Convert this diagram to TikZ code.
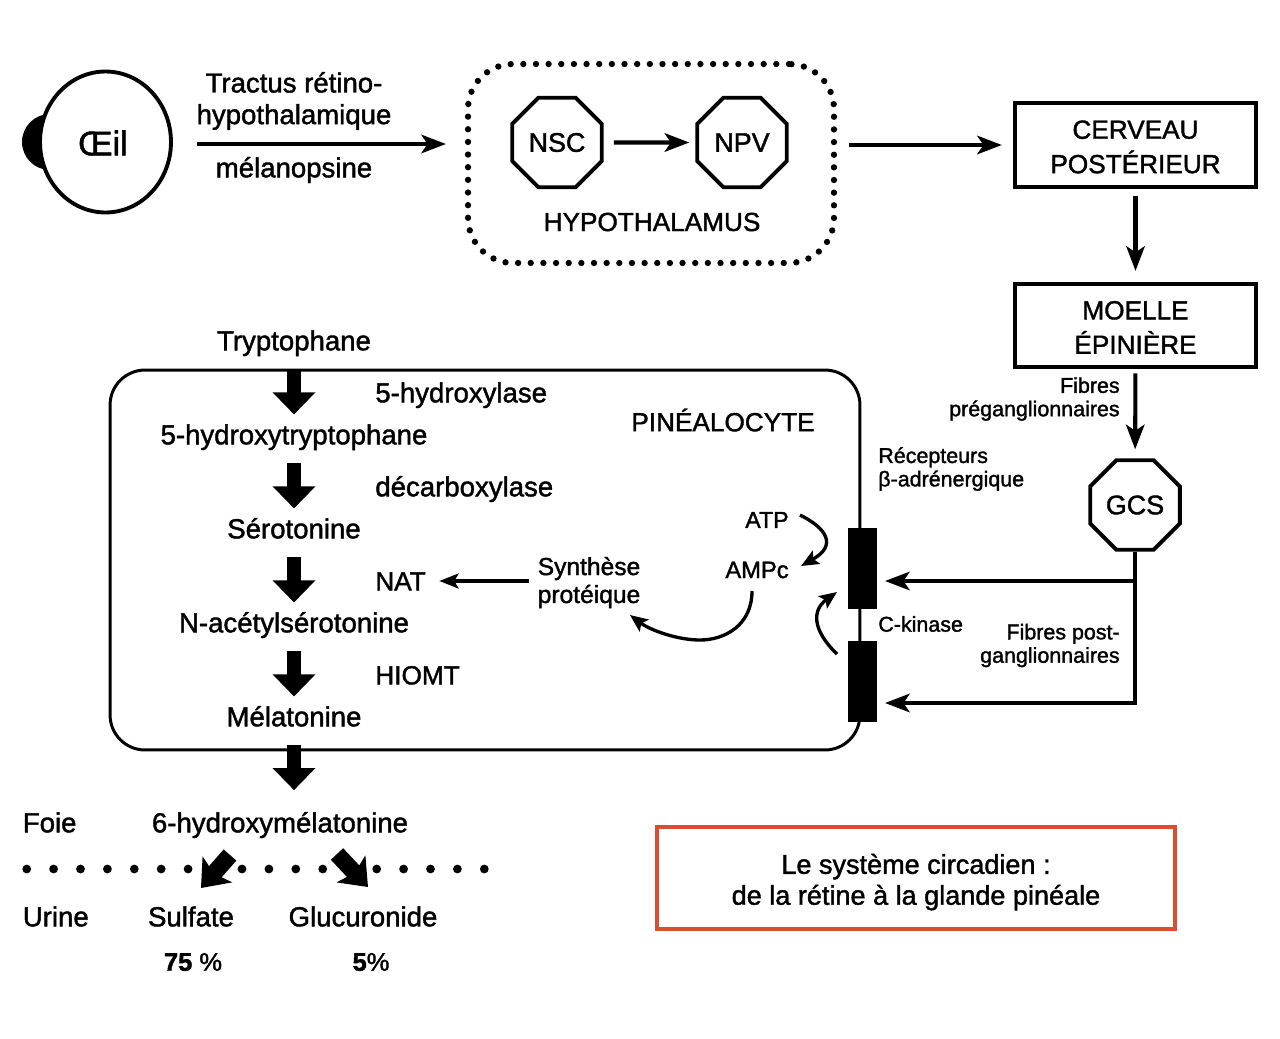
\documentclass[tikz,border=0pt]{standalone}
\usepackage{fontspec}
\setmainfont{Liberation Sans}[FakeBold=1.5]
\usetikzlibrary{shapes.geometric,arrows.meta}
\definecolor{cadrered}{RGB}{222,76,48}
\newcommand{\basse}[1]{\rule{0pt}{#1}}

\tikzset{
    lab/.style={inner sep=0pt, font=\fontsize{15.7}{18}\selectfont, align=center},
    caps/.style={lab, font=\fontsize{14.9}{18}\selectfont},
    chem/.style={lab, text height=12.3pt, text depth=1.7pt},
    small/.style={inner sep=0pt, font=\fontsize{12.2}{13.3}\selectfont},
    octo/.style={draw, regular polygon, regular polygon sides=8, minimum size=1.94cm, inner sep=0pt, line width=2.2pt, font=\fontsize{15.3}{18}\selectfont},
    bloc/.style={draw, rectangle, minimum width=4.83cm, minimum height=1.67cm, line width=2.3pt, inner sep=0pt, align=center, font=\fontsize{14.9}{19.6}\selectfont},
    recep/.style={draw, fill=black, rectangle, minimum width=0.56cm, minimum height=1.6cm, inner sep=0pt},
    arr/.style={line width=2.3pt, -{Stealth[length=14pt,width=10.5pt,inset=3.5pt]}},
    arrfin/.style={line width=1.8pt, -{Stealth[length=11pt,width=8.5pt,inset=2.5pt]}},
    courbe/.style={line width=1.9pt, -{Stealth[length=10pt,width=8.5pt,inset=2pt]}},
    bigarr/.style={line width=8.4pt, -{Triangle[length=12.5pt,width=23.5pt]}, shorten <=9pt, shorten >=4.5pt},
    diagarr/.style={line width=9.6pt, -{Stealth[length=14pt,width=22pt,inset=3pt]}},
    pointille/.style={line width=3.6pt, line cap=round, dash pattern=on 0pt off 7.2pt},
    rangee/.style={line width=5pt, line cap=round, dash pattern=on 0pt off 15.31pt}
}

\begin{document}
\begin{tikzpicture}[x=0.02cm, y=-0.02cm]
    \useasboundingbox (0,0) rectangle (1280,1038);

    \fill (50,142) circle (0.56cm);
    \node[draw, ellipse, fill=white, minimum width=2.62cm, minimum height=2.82cm, inner sep=0pt, line width=2.2pt] (eye) at (105.5,142) {};
    \node[lab, font=\fontsize{19.5}{22}\selectfont] (eyetxt) at (103,143) {Œil};

    \node[lab] (tractus) at (294,101) {Tractus rétino-\\hypothalamique};
    \node[lab] (melano) at (294,170) {mélanopsine};

    \node[draw, rectangle, rounded corners=0.9cm, minimum width=7.32cm, minimum height=3.98cm, pointille] (hypo) at (651,163.5) {};
    \node[octo] (nsc) at (557,142.5) {NSC};
    \node[octo] (npv) at (742,142.5) {NPV};
    \node[caps] (hypotxt) at (652,222) {HYPOTHALAMUS};

    \node[bloc] (cerveau) at (1135.5,145) {\basse{12.6pt}CERVEAU\\POSTÉRIEUR};
    \node[bloc] (moelle) at (1135.5,325.5) {\basse{12.6pt}MOELLE\\ÉPINIÈRE};
    \node[octo] (gcs) at (1135,505) {GCS};

    \coordinate (eyeout) at (197,144);
    \coordinate (hypoin) at (446,144);
    \draw[arr] (eyeout) -- (hypoin);
    \draw[arr, shorten <=5.7pt, shorten >=3.4pt] (nsc) -- (npv);
    \draw[arr, shorten <=6.5pt, shorten >=6.2pt] (hypo.east |- cerveau.west) -- (cerveau.west);
    \draw[arr, shorten <=4pt, shorten >=6.2pt] (cerveau) -- (moelle);
    \draw[arr, shorten <=2.3pt, shorten >=5.1pt] (moelle) -- (gcs);

    \node[draw, rectangle, rounded corners=0.7cm, minimum width=15cm, minimum height=7.6cm, line width=1.7pt] (pineal) at (485,560) {};
    \node[recep] (rec1) at (862.5,568) {};
    \node[recep] (rec2) at (862.5,681) {};

    \node[chem] (tryp) at (294,341) {Tryptophane};
    \node[chem] (hytryp) at (294,435) {5-hydroxytryptophane};
    \node[chem] (sero) at (294,529) {Sérotonine};
    \node[chem] (nacet) at (294,623) {N-acétylsérotonine};
    \node[chem] (mela) at (294,717) {Mélatonine};
    \node[chem] (hymela) at (280,823) {6-hydroxymélatonine};

    \draw[bigarr] (tryp) -- (hytryp);
    \draw[bigarr] (hytryp) -- (sero);
    \draw[bigarr] (sero) -- (nacet);
    \draw[bigarr] (nacet) -- (mela);
    \draw[bigarr, shorten >=18.7pt] (mela) -- (mela |- hymela);

    \node[chem, anchor=west] (hylase) at (375,393) {5-hydroxylase};
    \node[chem, anchor=west] (decarb) at (375,487) {décarboxylase};
    \node[chem, anchor=west, caps] (nat) at (375,581) {NAT};
    \node[chem, anchor=west, caps] (hiomt) at (375,675) {HIOMT};
    \node[caps] (pinealtxt) at (723,420) {PINÉALOCYTE};

    \node[lab, font=\fontsize{14}{15.9}\selectfont] (synth) at (589,582.5) {Synthèse\\protéique};
    \node[lab, anchor=east, font=\fontsize{13.2}{16}\selectfont] (atp) at (789,520) {ATP};
    \node[lab, anchor=east, font=\fontsize{13.5}{16}\selectfont] (ampc) at (789,570) {AMPc};
    \node[small, anchor=west, align=left] (recept) at (878,469) {Récepteurs\\β-adrénergique};
    \node[small, anchor=west] (ckin) at (878,624) {C-kinase};
    \node[small, anchor=east, align=right] (fibpre) at (1120,399) {Fibres\\préganglionnaires};
    \node[small, anchor=east, align=right] (fibpost) at (1120,645.5) {Fibres post-\\ganglionnaires};

    \draw[arrfin, shorten <=5pt, shorten >=7.5pt] (synth.west |- nat.east) -- (nat.east);

    \coordinate (atpa) at (800,515);
    \coordinate (atpb) at (801,566);
    \coordinate (ampa) at (752,591);
    \coordinate (ampm) at (700,640);
    \coordinate (ampb) at (630,615);
    \coordinate (kina) at (837,654);
    \coordinate (kinb) at (837,592);
    \draw[courbe] (atpa) .. controls (826,528) and (838,545) .. (atpb);
    \draw[courbe] (ampa) .. controls (752,625) and (725,640) .. (ampm) .. controls (677,640) and (650,630) .. (ampb);
    \draw[courbe] (kina) .. controls (812,630) and (812,610) .. (kinb);

    \coordinate (in1) at (885,581);
    \coordinate (in2) at (885,703);
    \draw[arr] (gcs.south) |- (in2);
    \draw[arr] (gcs.south |- in1) -- (in1);

    \node[chem, anchor=west] (foie) at (22.5,823) {Foie};
    \node[chem, anchor=west] (urine) at (22.5,917) {Urine};
    \node[chem] (sulf) at (191,917) {Sulfate};
    \node[chem] (gluc) at (363,917) {Glucuronide};
    \node[lab, font=\fontsize{14.5}{16}\selectfont] (pc75) at (193,962) {\textbf{75} \%};
    \node[lab, font=\fontsize{14.5}{16}\selectfont] (pc5) at (371,962) {\textbf{5}\%};

    \draw[rangee] (26.7,869) -- (189.5,869);
    \draw[rangee] (242,869) -- (324,869);
    \draw[rangee] (376.7,869) -- (486,869);

    \coordinate (sula) at (230,855);
    \coordinate (sulb) at (201,888);
    \coordinate (glua) at (337,854);
    \coordinate (glub) at (368,887);
    \draw[diagarr] (sula) -- (sulb);
    \draw[diagarr] (glua) -- (glub);

    \node[draw=cadrered, rectangle, minimum width=10.35cm, minimum height=2.05cm, line width=2.3pt, inner sep=0pt, align=center, font=\fontsize{15.4}{17.6}\selectfont] (titre) at (916,878) {\basse{16pt}Le système circadien :\\de la rétine à la glande pinéale};
\end{tikzpicture}
\end{document}
